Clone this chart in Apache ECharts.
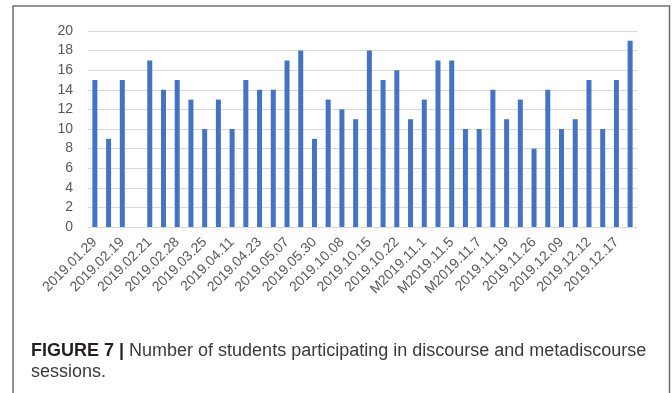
<!DOCTYPE html>
<html>
<head>
<meta charset="utf-8">
<script src="https://cdn.jsdelivr.net/npm/echarts@6/dist/echarts.min.js"></script>
<style>
  html, body { margin: 0; padding: 0; background: #fff; }
  #chart { width: 672px; height: 393px; }
</style>
</head>
<body>
<div id="chart"></div>
<script>
// Session dates; only every other one carries a printed label.
const sessionDates = [
  '2019.01.29', '', '2019.02.19', '', '2019.02.21', '', '2019.02.28', '',
  '2019.03.25', '', '2019.04.11', '', '2019.04.23', '', '2019.05.07', '',
  '2019.05.30', '', '2019.10.08', '', '2019.10.15', '', '2019.10.22', '',
  'M2019.11.1', '', 'M2019.11.5', '', 'M2019.11.7', '', '2019.11.19', '',
  '2019.11.26', '', '2019.12.09', '', '2019.12.12', '', '2019.12.17', ''
];

// Number of participating students per session.
const studentCounts = [
  15, 9, 15, 0, 17, 14, 15, 13, 10, 13,
  10, 15, 14, 14, 17, 18, 9, 13, 12, 11,
  18, 15, 16, 11, 13, 17, 17, 10, 10, 14,
  11, 13, 8, 14, 10, 11, 15, 10, 15, 19
];

const yTicks = { min: 0, max: 20, step: 2 };

const captionLabel = 'FIGURE 7 |';
const captionLine1 = ' Number of students participating in discourse and metadiscourse';
const captionLine2 = 'sessions.';

const chart = echarts.init(document.getElementById('chart'), null, { renderer: 'canvas' });

chart.setOption({
  animation: false,
  backgroundColor: '#ffffff',
  grid: { left: 88, right: 35, top: 31, bottom: 166 },
  xAxis: {
    type: 'category',
    data: sessionDates,
    axisLine: { show: true, lineStyle: { color: '#d9d9d9', width: 1 } },
    axisTick: { show: false },
    axisLabel: {
      interval: 1,
      rotate: 45,
      margin: 13,
      color: '#595959',
      fontFamily: 'Liberation Sans',
      fontSize: 14
    }
  },
  yAxis: {
    type: 'value',
    min: yTicks.min,
    max: yTicks.max,
    interval: yTicks.step,
    axisLine: { show: false },
    axisTick: { show: false },
    axisLabel: {
      margin: 15,
      color: '#595959',
      fontFamily: 'Liberation Sans',
      fontSize: 14
    },
    splitLine: { lineStyle: { color: '#d9d9d9', width: 1 } }
  },
  series: [{
    type: 'bar',
    data: studentCounts,
    barWidth: 5,
    itemStyle: { color: '#4472c4' }
  }],
  graphic: [
    {
      type: 'rect',
      silent: true,
      shape: { x: 13, y: 6, width: 656.5, height: 420 },
      style: { fill: 'none', stroke: '#6f6f6f', lineWidth: 1.5 }
    },
    {
      type: 'text',
      left: 31,
      top: 342,
      style: {
        text: '{b|' + captionLabel + '}{n|' + captionLine1 + '}',
        rich: {
          b: { fontFamily: 'Liberation Sans', fontSize: 18, fontWeight: 'bold', fill: '#231f20' },
          n: { fontFamily: 'Liberation Sans', fontSize: 18, fill: '#3a3a3a' }
        }
      }
    },
    {
      type: 'text',
      left: 31,
      top: 363,
      style: {
        text: captionLine2,
        fontFamily: 'Liberation Sans',
        fontSize: 18,
        fill: '#3a3a3a'
      }
    }
  ]
});
</script>
</body>
</html>
